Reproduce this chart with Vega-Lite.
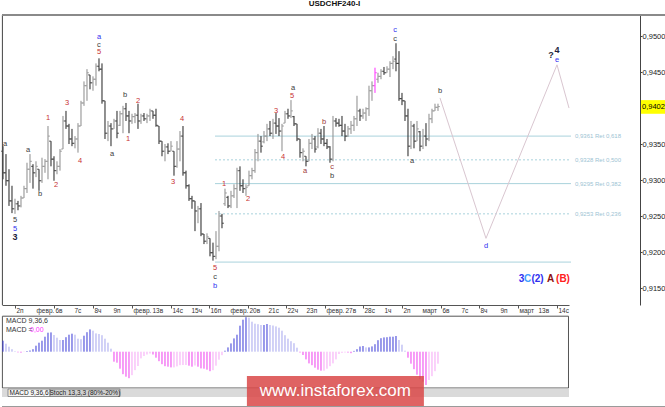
{
  "$schema": "https://vega.github.io/schema/vega-lite/v6.json",
  "padding": 0,
  "background": "white",
  "title": {"text": "USDCHF240-I", "font": "Liberation Sans", "fontSize": 8, "fontWeight": "bold", "color": "#111", "anchor": "middle", "offset": 6},
  "datasets": {
    "bars": [
      {"t":0,"o":0.9340,"h":0.9347,"l":0.9301,"c":0.9310,"m":11},
      {"t":1,"o":0.9310,"h":0.9336,"l":0.9292,"c":0.9299,"m":8},
      {"t":2,"o":0.9299,"h":0.9315,"l":0.9264,"c":0.9271,"m":5},
      {"t":3,"o":0.9271,"h":0.9292,"l":0.9254,"c":0.9260,"m":2.5},
      {"t":4,"o":0.9260,"h":0.9274,"l":0.9253,"c":0.9267,"m":0.5},
      {"t":5,"o":0.9267,"h":0.9271,"l":0.9258,"c":0.9264,"m":-0.7},
      {"t":6,"o":0.9264,"h":0.9278,"l":0.9262,"c":0.9275,"m":-1},
      {"t":7,"o":0.9275,"h":0.9292,"l":0.9275,"c":0.9288,"m":-0.3},
      {"t":8,"o":0.9288,"h":0.9324,"l":0.9282,"c":0.9315,"m":0.7},
      {"t":9,"o":0.9315,"h":0.9336,"l":0.9296,"c":0.9326,"m":1.2},
      {"t":10,"o":0.9319,"h":0.9322,"l":0.9288,"c":0.9310,"m":2.5},
      {"t":11,"o":0.9310,"h":0.9326,"l":0.9304,"c":0.9319,"m":6},
      {"t":12,"o":0.9315,"h":0.9315,"l":0.9285,"c":0.9299,"m":9},
      {"t":13,"o":0.9299,"h":0.9331,"l":0.9296,"c":0.9319,"m":11},
      {"t":14,"o":0.9319,"h":0.9329,"l":0.9310,"c":0.9326,"m":15},
      {"t":15,"o":0.9326,"h":0.9375,"l":0.9301,"c":0.9361,"m":19},
      {"t":16,"o":0.9354,"h":0.9354,"l":0.9319,"c":0.9329,"m":19.3},
      {"t":17,"o":0.9329,"h":0.9333,"l":0.9299,"c":0.9313,"m":16.7},
      {"t":18,"o":0.9313,"h":0.9326,"l":0.9308,"c":0.9319,"m":14},
      {"t":19,"o":0.9319,"h":0.9343,"l":0.9313,"c":0.9340,"m":11.7},
      {"t":20,"o":0.9343,"h":0.9389,"l":0.9343,"c":0.9382,"m":11.7},
      {"t":21,"o":0.9382,"h":0.9396,"l":0.9371,"c":0.9375,"m":14.5},
      {"t":22,"o":0.9375,"h":0.9378,"l":0.9350,"c":0.9357,"m":17},
      {"t":23,"o":0.9357,"h":0.9371,"l":0.9347,"c":0.9351,"m":18},
      {"t":24,"o":0.9351,"h":0.9361,"l":0.9344,"c":0.9357,"m":17},
      {"t":25,"o":0.9357,"h":0.9379,"l":0.9338,"c":0.9375,"m":13},
      {"t":26,"o":0.9375,"h":0.9410,"l":0.9375,"c":0.9407,"m":12.5},
      {"t":27,"o":0.9407,"h":0.9437,"l":0.9403,"c":0.9431,"m":16},
      {"t":28,"o":0.9431,"h":0.9454,"l":0.9410,"c":0.9449,"m":19.5},
      {"t":29,"o":0.9446,"h":0.9446,"l":0.9426,"c":0.9435,"m":22.3},
      {"t":30,"o":0.9435,"h":0.9444,"l":0.9424,"c":0.9440,"m":21},
      {"t":31,"o":0.9440,"h":0.9462,"l":0.9431,"c":0.9458,"m":18.3},
      {"t":32,"o":0.9458,"h":0.9469,"l":0.9451,"c":0.9454,"m":17.7},
      {"t":33,"o":0.9454,"h":0.9462,"l":0.9406,"c":0.9410,"m":16.5},
      {"t":34,"o":0.9410,"h":0.9410,"l":0.9357,"c":0.9365,"m":13},
      {"t":35,"o":0.9365,"h":0.9382,"l":0.9354,"c":0.9375,"m":9},
      {"t":36,"o":0.9375,"h":0.9379,"l":0.9347,"c":0.9371,"m":3},
      {"t":37,"o":0.9371,"h":0.9385,"l":0.9371,"c":0.9382,"m":-10},
      {"t":38,"o":0.9382,"h":0.9396,"l":0.9358,"c":0.9365,"m":-11},
      {"t":39,"o":0.9376,"h":0.9396,"l":0.9375,"c":0.9392,"m":-17},
      {"t":40,"o":0.9392,"h":0.9403,"l":0.9365,"c":0.9399,"m":-22.5},
      {"t":41,"o":0.9399,"h":0.9407,"l":0.9382,"c":0.9389,"m":-25},
      {"t":42,"o":0.9389,"h":0.9396,"l":0.9365,"c":0.9382,"m":-26.5},
      {"t":43,"o":0.9382,"h":0.9392,"l":0.9378,"c":0.9388,"m":-23.5},
      {"t":44,"o":0.9388,"h":0.9393,"l":0.9379,"c":0.9390,"m":-18.5},
      {"t":45,"o":0.9390,"h":0.9406,"l":0.9371,"c":0.9382,"m":-14.3},
      {"t":46,"o":0.9382,"h":0.9392,"l":0.9378,"c":0.9389,"m":-6.7},
      {"t":47,"o":0.9389,"h":0.9393,"l":0.9382,"c":0.9385,"m":-4.3},
      {"t":48,"o":0.9385,"h":0.9392,"l":0.9379,"c":0.9389,"m":-2.8},
      {"t":49,"o":0.9389,"h":0.9399,"l":0.9382,"c":0.9396,"m":-1.8},
      {"t":50,"o":0.9396,"h":0.9396,"l":0.9385,"c":0.9390,"m":-2.8},
      {"t":51,"o":0.9390,"h":0.9399,"l":0.9374,"c":0.9376,"m":-6},
      {"t":52,"o":0.9375,"h":0.9375,"l":0.9350,"c":0.9354,"m":-9.5},
      {"t":53,"o":0.9354,"h":0.9354,"l":0.9333,"c":0.9340,"m":-12.5},
      {"t":54,"o":0.9340,"h":0.9350,"l":0.9326,"c":0.9346,"m":-14.5},
      {"t":55,"o":0.9346,"h":0.9351,"l":0.9336,"c":0.9340,"m":-15},
      {"t":56,"o":0.9340,"h":0.9354,"l":0.9340,"c":0.9347,"m":-15.7},
      {"t":57,"o":0.9340,"h":0.9340,"l":0.9306,"c":0.9319,"m":-15.7},
      {"t":58,"o":0.9319,"h":0.9354,"l":0.9317,"c":0.9343,"m":-14.7},
      {"t":59,"o":0.9343,"h":0.9368,"l":0.9326,"c":0.9361,"m":-13.5},
      {"t":60,"o":0.9361,"h":0.9375,"l":0.9306,"c":0.9310,"m":-13.3},
      {"t":61,"o":0.9310,"h":0.9313,"l":0.9288,"c":0.9292,"m":-13.3},
      {"t":62,"o":0.9292,"h":0.9294,"l":0.9271,"c":0.9274,"m":-14},
      {"t":63,"o":0.9274,"h":0.9278,"l":0.9260,"c":0.9271,"m":-15},
      {"t":64,"o":0.9271,"h":0.9271,"l":0.9229,"c":0.9257,"m":-13.8},
      {"t":65,"o":0.9257,"h":0.9264,"l":0.9240,"c":0.9260,"m":-15},
      {"t":66,"o":0.9260,"h":0.9268,"l":0.9222,"c":0.9225,"m":-16.7},
      {"t":67,"o":0.9225,"h":0.9225,"l":0.9211,"c":0.9215,"m":-17},
      {"t":68,"o":0.9215,"h":0.9226,"l":0.9211,"c":0.9221,"m":-18},
      {"t":69,"o":0.9219,"h":0.9219,"l":0.9194,"c":0.9199,"m":-19.5},
      {"t":70,"o":0.9199,"h":0.9213,"l":0.9188,"c":0.9194,"m":-18.5},
      {"t":71,"o":0.9194,"h":0.9229,"l":0.9190,"c":0.9208,"m":-14},
      {"t":72,"o":0.9208,"h":0.9257,"l":0.9201,"c":0.9250,"m":-8},
      {"t":73,"o":0.9250,"h":0.9253,"l":0.9233,"c":0.9240,"m":-3.5},
      {"t":74,"o":0.9267,"h":0.9288,"l":0.9264,"c":0.9282,"m":1},
      {"t":75,"o":0.9276,"h":0.9278,"l":0.9261,"c":0.9264,"m":4.3},
      {"t":76,"o":0.9264,"h":0.9285,"l":0.9261,"c":0.9278,"m":8.3},
      {"t":77,"o":0.9278,"h":0.9294,"l":0.9275,"c":0.9288,"m":13.3},
      {"t":78,"o":0.9288,"h":0.9317,"l":0.9261,"c":0.9313,"m":17},
      {"t":79,"o":0.9313,"h":0.9319,"l":0.9285,"c":0.9292,"m":26},
      {"t":80,"o":0.9292,"h":0.9301,"l":0.9282,"c":0.9288,"m":32},
      {"t":81,"o":0.9288,"h":0.9294,"l":0.9278,"c":0.9290,"m":34.5},
      {"t":82,"o":0.9292,"h":0.9313,"l":0.9292,"c":0.9306,"m":34},
      {"t":83,"o":0.9306,"h":0.9317,"l":0.9301,"c":0.9313,"m":30},
      {"t":84,"o":0.9313,"h":0.9343,"l":0.9310,"c":0.9338,"m":28},
      {"t":85,"o":0.9338,"h":0.9364,"l":0.9326,"c":0.9354,"m":27.5},
      {"t":86,"o":0.9354,"h":0.9361,"l":0.9338,"c":0.9347,"m":26.7},
      {"t":87,"o":0.9353,"h":0.9368,"l":0.9351,"c":0.9361,"m":26.7},
      {"t":88,"o":0.9361,"h":0.9378,"l":0.9354,"c":0.9371,"m":27.7},
      {"t":89,"o":0.9371,"h":0.9382,"l":0.9361,"c":0.9365,"m":26.7},
      {"t":90,"o":0.9365,"h":0.9385,"l":0.9357,"c":0.9379,"m":26.2},
      {"t":91,"o":0.9379,"h":0.9393,"l":0.9364,"c":0.9375,"m":25.3},
      {"t":92,"o":0.9375,"h":0.9386,"l":0.9361,"c":0.9368,"m":24},
      {"t":93,"o":0.9368,"h":0.9378,"l":0.9340,"c":0.9375,"m":21},
      {"t":94,"o":0.9379,"h":0.9396,"l":0.9379,"c":0.9392,"m":16.5},
      {"t":95,"o":0.9392,"h":0.9399,"l":0.9385,"c":0.9389,"m":13},
      {"t":96,"o":0.9389,"h":0.9411,"l":0.9386,"c":0.9396,"m":10.5},
      {"t":97,"o":0.9388,"h":0.9389,"l":0.9375,"c":0.9378,"m":8.5},
      {"t":98,"o":0.9378,"h":0.9378,"l":0.9354,"c":0.9357,"m":4},
      {"t":99,"o":0.9357,"h":0.9357,"l":0.9331,"c":0.9338,"m":-0.8},
      {"t":100,"o":0.9338,"h":0.9344,"l":0.9326,"c":0.9340,"m":-3.3},
      {"t":101,"o":0.9333,"h":0.9333,"l":0.9319,"c":0.9326,"m":-7.7},
      {"t":102,"o":0.9326,"h":0.9357,"l":0.9326,"c":0.9351,"m":-11.7},
      {"t":103,"o":0.9351,"h":0.9364,"l":0.9343,"c":0.9357,"m":-13.5},
      {"t":104,"o":0.9357,"h":0.9361,"l":0.9338,"c":0.9343,"m":-16},
      {"t":105,"o":0.9346,"h":0.9372,"l":0.9344,"c":0.9365,"m":-18},
      {"t":106,"o":0.9365,"h":0.9371,"l":0.9350,"c":0.9357,"m":-19},
      {"t":107,"o":0.9357,"h":0.9375,"l":0.9347,"c":0.9351,"m":-19},
      {"t":108,"o":0.9351,"h":0.9357,"l":0.9343,"c":0.9346,"m":-17},
      {"t":109,"o":0.9346,"h":0.9347,"l":0.9324,"c":0.9329,"m":-14.5},
      {"t":110,"o":0.9329,"h":0.9389,"l":0.9326,"c":0.9382,"m":-11.7},
      {"t":111,"o":0.9382,"h":0.9386,"l":0.9374,"c":0.9379,"m":-7.7},
      {"t":112,"o":0.9379,"h":0.9385,"l":0.9374,"c":0.9376,"m":-2.3},
      {"t":113,"o":0.9376,"h":0.9389,"l":0.9361,"c":0.9368,"m":-1.2},
      {"t":114,"o":0.9368,"h":0.9378,"l":0.9354,"c":0.9361,"m":-0.8},
      {"t":115,"o":0.9361,"h":0.9375,"l":0.9360,"c":0.9371,"m":-0.9},
      {"t":116,"o":0.9371,"h":0.9382,"l":0.9364,"c":0.9376,"m":-1.5},
      {"t":117,"o":0.9376,"h":0.9389,"l":0.9368,"c":0.9385,"m":0.8},
      {"t":118,"o":0.9385,"h":0.9417,"l":0.9375,"c":0.9396,"m":2.5},
      {"t":119,"o":0.9396,"h":0.9399,"l":0.9382,"c":0.9389,"m":5.2},
      {"t":120,"o":0.9389,"h":0.9399,"l":0.9385,"c":0.9393,"m":5.7},
      {"t":121,"o":0.9393,"h":0.9401,"l":0.9382,"c":0.9399,"m":4.3},
      {"t":122,"o":0.9399,"h":0.9431,"l":0.9389,"c":0.9424,"m":4.3},
      {"t":123,"o":0.9424,"h":0.9437,"l":0.9410,"c":0.9431,"m":5.3},
      {"t":124,"o":0.9431,"h":0.9456,"l":0.9421,"c":0.9449,"m":7.5},
      {"t":125,"o":0.9440,"h":0.9449,"l":0.9435,"c":0.9444,"m":11.5},
      {"t":126,"o":0.9444,"h":0.9454,"l":0.9440,"c":0.9451,"m":13.5},
      {"t":127,"o":0.9451,"h":0.9457,"l":0.9446,"c":0.9449,"m":14.3},
      {"t":128,"o":0.9449,"h":0.9458,"l":0.9449,"c":0.9454,"m":14.5},
      {"t":129,"o":0.9454,"h":0.9465,"l":0.9443,"c":0.9462,"m":15},
      {"t":130,"o":0.9462,"h":0.9472,"l":0.9454,"c":0.9465,"m":15},
      {"t":131,"o":0.9468,"h":0.9490,"l":0.9451,"c":0.9462,"m":15.7},
      {"t":132,"o":0.9462,"h":0.9479,"l":0.9410,"c":0.9413,"m":11.7},
      {"t":133,"o":0.9413,"h":0.9421,"l":0.9404,"c":0.9410,"m":7},
      {"t":134,"o":0.9410,"h":0.9410,"l":0.9382,"c":0.9389,"m":1},
      {"t":135,"o":0.9389,"h":0.9399,"l":0.9333,"c":0.9347,"m":-6},
      {"t":136,"o":0.9347,"h":0.9382,"l":0.9343,"c":0.9375,"m":-12},
      {"t":137,"o":0.9375,"h":0.9378,"l":0.9344,"c":0.9354,"m":-17.5},
      {"t":138,"o":0.9354,"h":0.9382,"l":0.9354,"c":0.9371,"m":-23},
      {"t":139,"o":0.9367,"h":0.9368,"l":0.9340,"c":0.9347,"m":-27.5},
      {"t":140,"o":0.9347,"h":0.9371,"l":0.9343,"c":0.9361,"m":-30},
      {"t":141,"o":0.9361,"h":0.9379,"l":0.9347,"c":0.9357,"m":-33.3},
      {"t":142,"o":0.9357,"h":0.9392,"l":0.9354,"c":0.9385,"m":-28.3},
      {"t":143,"o":0.9385,"h":0.9399,"l":0.9379,"c":0.9396,"m":-24.5},
      {"t":144,"o":0.9396,"h":0.9406,"l":0.9396,"c":0.9401,"m":-19.5},
      {"t":145,"o":0.9401,"h":0.9406,"l":0.9396,"c":0.9402,"m":-12}
    ],
    "days": [
      {"t":4,"s":"2п"},{"t":10.67,"s":"февр."},{"t":17,"s":"6в"},{"t":23.33,"s":"7с"},{"t":30,"s":"8ч"},
      {"t":36.33,"s":"9п"},{"t":43,"s":"февр."},{"t":49.33,"s":"13в"},{"t":56,"s":"14с"},{"t":62.33,"s":"15ч"},
      {"t":68.67,"s":"16п"},{"t":75.33,"s":"февр."},{"t":81.67,"s":"20в"},{"t":88,"s":"21с"},{"t":94.33,"s":"22ч"},
      {"t":100.67,"s":"23п"},{"t":107.33,"s":"февр."},{"t":113.67,"s":"27в"},{"t":120,"s":"28с"},{"t":126.67,"s":"1ч"},
      {"t":133,"s":"2п"},{"t":139.33,"s":"март"},{"t":146,"s":"6в"},{"t":152.33,"s":"7с"},{"t":158.67,"s":"8ч"},
      {"t":165.33,"s":"9п"},{"t":171.67,"s":"март"},{"t":178,"s":"13в"},{"t":184.67,"s":"14с"}
    ],
    "waves": [
      {"t":0.7,"p":0.9350,"s":"a","k":"black"},
      {"t":4,"p":0.9244,"s":"5","k":"black"},
      {"t":4,"p":0.9232,"s":"5","k":"blue"},
      {"t":4,"p":0.9221,"s":"3","k":"bold"},
      {"t":8.33,"p":0.9342,"s":"a","k":"black"},
      {"t":12.33,"p":0.9281,"s":"b","k":"black"},
      {"t":15,"p":0.9386,"s":"1","k":"red"},
      {"t":17.67,"p":0.9293,"s":"2","k":"red"},
      {"t":21.33,"p":0.9407,"s":"3","k":"red"},
      {"t":25.67,"p":0.9326,"s":"4","k":"red"},
      {"t":32,"p":0.9498,"s":"a","k":"blue"},
      {"t":32,"p":0.9488,"s":"c","k":"black"},
      {"t":32,"p":0.9478,"s":"5","k":"red"},
      {"t":36.33,"p":0.9336,"s":"a","k":"black"},
      {"t":40.67,"p":0.9418,"s":"b","k":"black"},
      {"t":41.67,"p":0.9357,"s":"1","k":"red"},
      {"t":45,"p":0.9410,"s":"2","k":"red"},
      {"t":56.67,"p":0.9297,"s":"3","k":"red"},
      {"t":59.67,"p":0.9385,"s":"4","k":"red"},
      {"t":70.67,"p":0.9178,"s":"5","k":"red"},
      {"t":70.67,"p":0.9165,"s":"c","k":"black"},
      {"t":70.67,"p":0.9153,"s":"b","k":"blue"},
      {"t":73.67,"p":0.9294,"s":"1","k":"red"},
      {"t":81.67,"p":0.9274,"s":"2","k":"red"},
      {"t":91,"p":0.9396,"s":"3","k":"red"},
      {"t":93.33,"p":0.9332,"s":"4","k":"red"},
      {"t":96.33,"p":0.9417,"s":"5","k":"red"},
      {"t":96.67,"p":0.9428,"s":"a","k":"black"},
      {"t":100.67,"p":0.9313,"s":"a","k":"brown"},
      {"t":107,"p":0.9381,"s":"b","k":"brown"},
      {"t":109.67,"p":0.9318,"s":"c","k":"brown"},
      {"t":109.67,"p":0.9306,"s":"b","k":"black"},
      {"t":130.67,"p":0.9508,"s":"c","k":"blue"},
      {"t":130.67,"p":0.9496,"s":"c","k":"black"},
      {"t":136.33,"p":0.9326,"s":"a","k":"black"},
      {"t":145.67,"p":0.9424,"s":"b","k":"black"},
      {"t":161,"p":0.9208,"s":"d","k":"blue"},
      {"t":184.67,"p":0.9467,"s":"e","k":"blue"},
      {"t":182.67,"p":0.9474,"s":"?","k":"bold"},
      {"t":184.67,"p":0.9481,"s":"4","k":"bold"}
    ],
    "tags": [
      {"t":172.83,"p":0.9163,"s":"3","k":"blue"},
      {"t":174.83,"p":0.9163,"s":"C","k":"lblue"},
      {"t":178.17,"p":0.9163,"s":"(2)","k":"blue"},
      {"t":182.5,"p":0.9163,"s":"A","k":"dred"},
      {"t":186.67,"p":0.9163,"s":"(B)","k":"bred"}
    ],
    "fib": [
      {"p":0.9361,"lab":"0,9361 Ret 0,618","kind":"solid"},
      {"p":0.9328,"lab":"0,9328 Ret 0,500","kind":"dash"},
      {"p":0.9295,"lab":"0,9295 Ret 0,382","kind":"solid"},
      {"p":0.9253,"lab":"0,9253 Ret 0,236","kind":"dash"},
      {"p":0.9186,"lab":"","kind":"solid"}
    ],
    "proj": [
      {"t":145.67,"p":0.9414},
      {"t":161,"p":0.9219},
      {"t":184.67,"p":0.9460},
      {"t":188.67,"p":0.9400}
    ],
    "last": [{"p":0.9402,"s":"0,9402"}],
    "macdtext": [
      {"t":1,"m":30.7,"s":"MACD 9,36,6"},
      {"t":1,"m":21.7,"s":"MACD ="},
      {"t":9,"m":21.7,"s":"0,00"}
    ]
  },
  "spacing": 0,
  "vconcat": [
    {
      "width": 567,
      "height": 290,
      "layer": [
        {
          "data": {"name": "fib"},
          "mark": {"type": "rule", "color": "#a9d2dc", "strokeWidth": 1},
          "encoding": {
            "x": {"datum": 70.67, "type": "quantitative", "title": null},
            "x2": {"datum": 189.33},
            "y": {"field": "p", "type": "quantitative", "title": null},
            "strokeDash": {"field": "kind", "type": "nominal", "scale": {"domain": ["solid", "dash"], "range": [[1, 0], [2, 2]]}, "legend": null}
          }
        },
        {
          "data": {"name": "fib"},
          "mark": {"type": "text", "align": "left", "baseline": "middle", "font": "Liberation Sans", "fontSize": 6, "color": "#9cc3d3"},
          "encoding": {
            "x": {"datum": 190.67, "type": "quantitative", "title": null},
            "y": {"field": "p", "type": "quantitative", "title": null},
            "text": {"field": "lab"}
          }
        },
        {
          "data": {"name": "proj"},
          "mark": {"type": "line", "color": "#d9c6d0", "strokeWidth": 1},
          "encoding": {
            "x": {"field": "t", "type": "quantitative", "title": null},
            "y": {"field": "p", "type": "quantitative", "title": null}
          }
        },
        {
          "data": {"name": "bars"},
          "mark": {"type": "rule", "strokeWidth": 1},
          "encoding": {
            "x": {
              "field": "t", "type": "quantitative", "title": null,
              "scale": {"domain": [-0.333, 188.667], "nice": false, "zero": false},
              "axis": {
                "grid": false, "orient": "bottom", "labels": false,
                "values": [4,10.67,17,23.33,30,36.33,43,49.33,56,62.33,68.67,75.33,81.67,88,94.33,100.67,107.33,113.67,120,126.67,133,139.33,146,152.33,158.67,165.33,171.67,178,184.67],
                "tickSize": 3, "domainColor": "#555", "tickColor": "#555"
              }
            },
            "y": {
              "field": "h", "type": "quantitative", "title": null,
              "scale": {"domain": [0.91264, 0.95292], "nice": false, "zero": false},
              "axis": {
                "grid": false, "orient": "right", "offset": 71,
                "values": [0.915, 0.92, 0.925, 0.93, 0.935, 0.94, 0.945, 0.95],
                "labelExpr": "replace(format(datum.value, '.4f'), '.', ',')",
                "tickSize": 2, "labelPadding": 0, "labelFont": "Liberation Sans", "labelFontSize": 7.5,
                "labelColor": "#222", "domainColor": "#444", "tickColor": "#444", "labelOverlap": false
              }
            },
            "y2": {"field": "l"},
            "color": {
              "condition": [
                {"test": "datum.t == 124", "value": "#ff2cff"},
                {"test": "datum.c > datum.o", "value": "#8a8a8a"}
              ],
              "value": "#222222"
            }
          }
        },
        {
          "data": {"name": "bars"},
          "mark": {"type": "tick", "orient": "horizontal", "size": 2, "thickness": 1, "xOffset": -1},
          "encoding": {
            "x": {"field": "t", "type": "quantitative", "title": null},
            "y": {"field": "o", "type": "quantitative", "title": null},
            "color": {
              "condition": [
                {"test": "datum.t == 124", "value": "#ff2cff"},
                {"test": "datum.c > datum.o", "value": "#8a8a8a"}
              ],
              "value": "#222222"
            }
          }
        },
        {
          "data": {"name": "bars"},
          "mark": {"type": "tick", "orient": "horizontal", "size": 2, "thickness": 1, "xOffset": 1},
          "encoding": {
            "x": {"field": "t", "type": "quantitative", "title": null},
            "y": {"field": "c", "type": "quantitative", "title": null},
            "color": {
              "condition": [
                {"test": "datum.t == 124", "value": "#ff2cff"},
                {"test": "datum.c > datum.o", "value": "#8a8a8a"}
              ],
              "value": "#222222"
            }
          }
        },
        {
          "data": {"name": "days"},
          "mark": {"type": "text", "align": "left", "baseline": "top", "dx": 1.5, "dy": 3, "font": "Liberation Sans", "fontSize": 6.5, "color": "#333"},
          "encoding": {
            "x": {"field": "t", "type": "quantitative", "title": null},
            "y": {"datum": 0.91264, "type": "quantitative", "title": null},
            "text": {"field": "s"}
          }
        },
        {
          "data": {"name": "waves"},
          "transform": [{"filter": "datum.k != 'bold'"}],
          "mark": {"type": "text", "align": "center", "baseline": "middle", "font": "Liberation Sans", "fontSize": 7.5},
          "encoding": {
            "x": {"field": "t", "type": "quantitative", "title": null},
            "y": {"field": "p", "type": "quantitative", "title": null},
            "text": {"field": "s"},
            "color": {
              "field": "k", "type": "nominal", "legend": null,
              "scale": {
                "domain": ["red", "black", "blue", "brown", "bold", "lblue", "dred", "bred"],
                "range": ["#c83232", "#3a3a3a", "#3030f0", "#a03838", "#1e1e3c", "#40a0ff", "#8b1010", "#ff2020"]
              }
            }
          }
        },
        {
          "data": {"name": "waves"},
          "transform": [{"filter": "datum.k == 'bold'"}],
          "mark": {"type": "text", "align": "center", "baseline": "middle", "font": "Liberation Sans", "fontSize": 9, "fontWeight": "bold"},
          "encoding": {
            "x": {"field": "t", "type": "quantitative", "title": null},
            "y": {"field": "p", "type": "quantitative", "title": null},
            "text": {"field": "s"},
            "color": {"field": "k", "type": "nominal", "legend": null}
          }
        },
        {
          "data": {"name": "tags"},
          "mark": {"type": "text", "align": "center", "baseline": "middle", "font": "Liberation Sans", "fontSize": 10, "fontWeight": "bold"},
          "encoding": {
            "x": {"field": "t", "type": "quantitative", "title": null},
            "y": {"field": "p", "type": "quantitative", "title": null},
            "text": {"field": "s"},
            "color": {"field": "k", "type": "nominal", "legend": null}
          }
        },
        {
          "data": {"name": "last"},
          "mark": {"type": "rect", "fill": "#ffff00"},
          "encoding": {
            "x": {"datum": 212.67, "type": "quantitative", "title": null},
            "x2": {"datum": 221.33},
            "y": {"datum": 0.9411, "type": "quantitative", "title": null},
            "y2": {"datum": 0.9392}
          }
        },
        {
          "data": {"name": "last"},
          "mark": {"type": "text", "align": "left", "baseline": "middle", "font": "Liberation Sans", "fontSize": 7.5, "color": "#000"},
          "encoding": {
            "x": {"datum": 213.0, "type": "quantitative", "title": null},
            "y": {"field": "p", "type": "quantitative", "title": null},
            "text": {"field": "s"}
          }
        },
        {
          "data": {"values": [{}]},
          "mark": {"type": "rule", "color": "#444", "strokeWidth": 1},
          "encoding": {
            "x": {"datum": -0.2, "type": "quantitative", "title": null},
            "y": {"datum": 0.91264, "type": "quantitative", "title": null},
            "y2": {"datum": 0.95292}
          }
        },
        {
          "data": {"values": [{}]},
          "mark": {"type": "rule", "color": "#8a8a8a", "strokeWidth": 2},
          "encoding": {
            "x": {"datum": -0.333, "type": "quantitative", "title": null},
            "x2": {"datum": 221.33},
            "y": {"datum": 0.95292, "type": "quantitative", "title": null}
          }
        },
        {
          "data": {"values": [{}]},
          "mark": {"type": "rule", "color": "#9a9a9a", "strokeWidth": 1},
          "encoding": {
            "x": {"datum": 221.0, "type": "quantitative", "title": null},
            "y": {"datum": 0.91264, "type": "quantitative", "title": null},
            "y2": {"datum": 0.95292}
          }
        }
      ]
    },
    {
      "width": 567,
      "height": 91,
      "layer": [
        {
          "data": {"values": [{}]},
          "mark": {"type": "rect", "fill": "white", "stroke": "#555", "strokeWidth": 1},
          "encoding": {
            "x": {"datum": -0.2, "type": "quantitative", "scale": {"domain": [-0.333, 188.667], "nice": false, "zero": false}, "axis": null},
            "x2": {"datum": 188.5},
            "y": {"datum": 35.5, "type": "quantitative", "scale": {"domain": [-55.3, 35.7], "nice": false, "zero": false}, "axis": null},
            "y2": {"datum": -36.3}
          }
        },
        {
          "data": {"name": "bars"},
          "transform": [{"window": [{"op": "lag", "field": "m", "as": "pm"}], "sort": [{"field": "t", "order": "ascending"}]}],
          "mark": {"type": "rule", "strokeWidth": 1},
          "encoding": {
            "x": {"field": "t", "type": "quantitative", "axis": null},
            "y": {"field": "m", "type": "quantitative", "axis": null},
            "y2": {"datum": 0},
            "color": {
              "condition": [
                {"test": "datum.m >= 0 && datum.m >= datum.pm", "value": "#3636d6"},
                {"test": "datum.m >= 0", "value": "#a4a4ee"},
                {"test": "datum.m < datum.pm", "value": "#ee3cee"}
              ],
              "value": "#f6a4f6"
            }
          }
        },
        {
          "data": {"name": "macdtext"},
          "mark": {"type": "text", "align": "left", "baseline": "middle", "font": "Liberation Sans", "fontSize": 7},
          "encoding": {
            "x": {"field": "t", "type": "quantitative", "axis": null},
            "y": {"field": "m", "type": "quantitative", "axis": null},
            "text": {"field": "s"},
            "color": {"condition": {"test": "datum.s == '0,00'", "value": "#ff33ff"}, "value": "#333"}
          }
        },
        {
          "data": {"values": [{}]},
          "mark": {"type": "rect", "fill": "#dadada"},
          "encoding": {
            "x": {"datum": -0.333, "type": "quantitative", "axis": null},
            "x2": {"datum": 188.667},
            "y": {"datum": -36.8, "type": "quantitative", "axis": null},
            "y2": {"datum": -45.3}
          }
        },
        {
          "data": {"values": [{"a": 1.67, "b": 15.67, "f": "first"}, {"a": 15.67, "b": 39, "f": "second"}]},
          "mark": {"type": "rect", "stroke": "#777", "strokeWidth": 0.8},
          "encoding": {
            "x": {"field": "a", "type": "quantitative", "axis": null},
            "x2": {"field": "b"},
            "y": {"datum": -37.3, "type": "quantitative", "axis": null},
            "y2": {"datum": -44.8},
            "fill": {"field": "f", "type": "nominal", "scale": {"domain": ["first", "second"], "range": ["#f6f6f6", "#d0d0d0"]}, "legend": null}
          }
        },
        {
          "data": {"values": [{"x": 8.67, "s": "MACD 9,36,6"}, {"x": 27.3, "s": "Stoch 13,3,3 (80%-20%)"}]},
          "mark": {"type": "text", "align": "center", "baseline": "middle", "font": "Liberation Sans", "fontSize": 6.5, "color": "#222"},
          "encoding": {
            "x": {"field": "x", "type": "quantitative", "axis": null},
            "y": {"datum": -41, "type": "quantitative", "axis": null},
            "text": {"field": "s"}
          }
        },
        {
          "data": {"values": [{}]},
          "mark": {"type": "rect", "fill": "#d94848", "opacity": 0.85},
          "encoding": {
            "x": {"datum": 81.3, "type": "quantitative", "axis": null},
            "x2": {"datum": 140.3},
            "y": {"datum": -24.3, "type": "quantitative", "axis": null},
            "y2": {"datum": -55.3}
          }
        },
        {
          "data": {"values": [{"s": "www.instaforex.com"}]},
          "mark": {"type": "text", "align": "center", "baseline": "middle", "font": "Liberation Sans", "fontSize": 17, "color": "white"},
          "encoding": {
            "x": {"datum": 110.8, "type": "quantitative", "axis": null},
            "y": {"datum": -39.5, "type": "quantitative", "axis": null},
            "text": {"field": "s"}
          }
        },
        {
          "data": {"values": [{}]},
          "mark": {"type": "rule", "color": "#9a9a9a", "strokeWidth": 1},
          "encoding": {
            "x": {"datum": 221.0, "type": "quantitative", "axis": null},
            "y": {"datum": 35.7, "type": "quantitative", "axis": null},
            "y2": {"datum": -55.3}
          }
        },
        {
          "data": {"values": [{}]},
          "mark": {"type": "rule", "color": "#9a9a9a", "strokeWidth": 1},
          "encoding": {
            "x": {"datum": -0.333, "type": "quantitative", "axis": null},
            "x2": {"datum": 221.0},
            "y": {"datum": -54.8, "type": "quantitative", "axis": null}
          }
        }
      ]
    }
  ],
  "resolve": {"scale": {"x": "independent", "y": "independent", "color": "independent"}},
  "config": {"view": {"stroke": null}, "font": "Liberation Sans"}
}
